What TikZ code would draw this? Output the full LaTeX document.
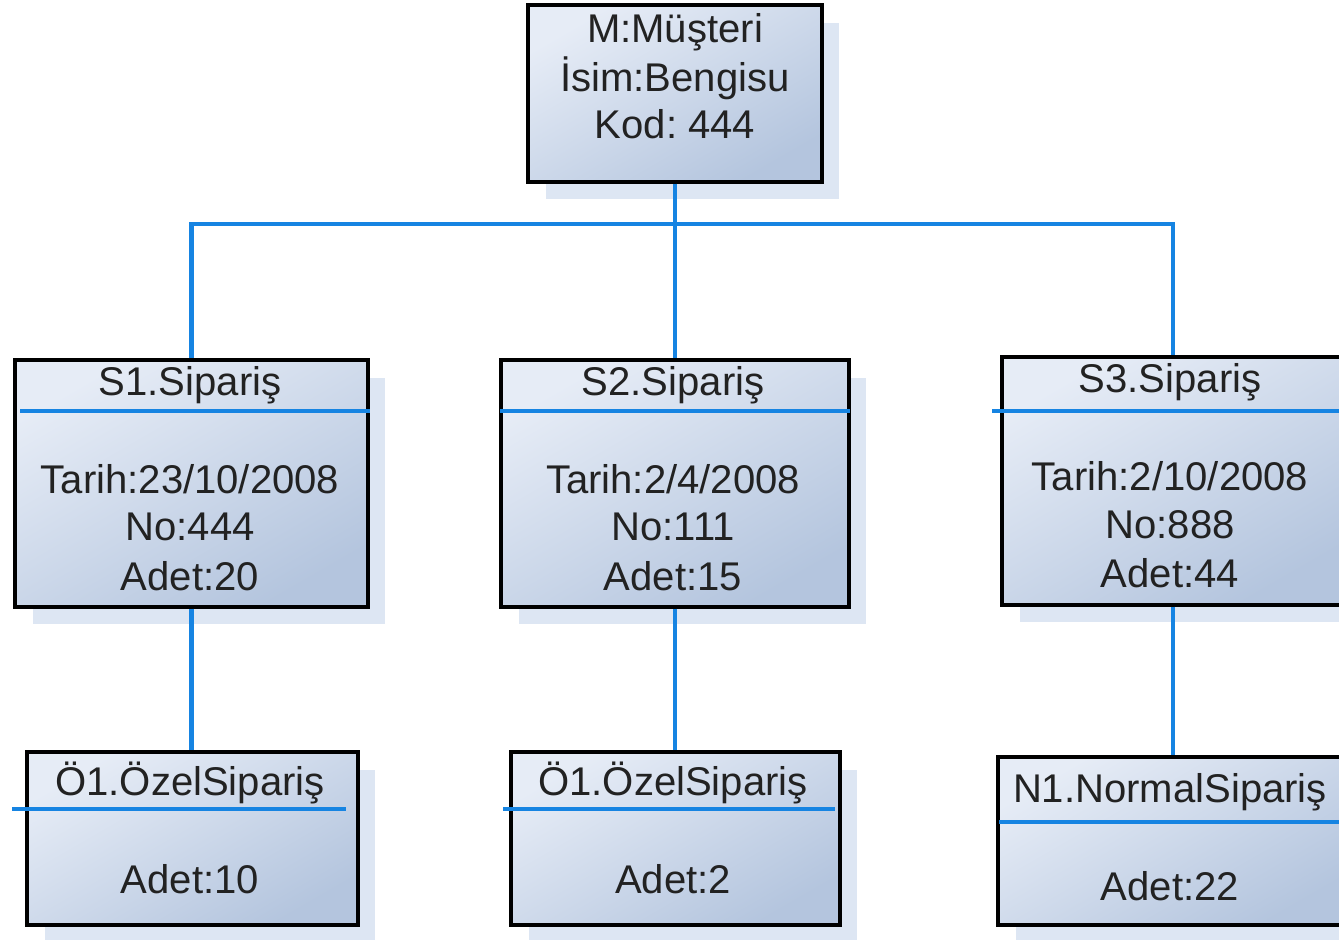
\documentclass[tikz,border=0pt]{standalone}
\usepackage{fontspec}
\newfontfamily\lsans{Liberation Sans}
\usetikzlibrary{shadows}
\definecolor{conncol}{RGB}{22,132,226}
\definecolor{boxlight}{RGB}{230,236,246}
\definecolor{boxdark}{RGB}{180,197,222}
\definecolor{shadowc}{RGB}{221,230,243}
\definecolor{txtc}{RGB}{34,34,34}
\frenchspacing
\tikzset{
 umlbox/.style={draw=black, line width=2pt, rectangle, inner sep=0pt,
   top color=boxlight, bottom color=boxdark, shading angle=30,
   drop shadow={shadow xshift=0.35cm, shadow yshift=-0.35cm, fill=shadowc, opacity=1}},
 conn/.style={draw=conncol, line width=2.3pt},
 divider/.style={draw=conncol, line width=2.3pt},
 txt/.style={font=\lsans\fontsize{22.8}{27}\selectfont, text=txtc, inner sep=0pt, anchor=base},
}
\begin{document}
\begin{tikzpicture}[x=0.02cm,y=-0.02cm]
\useasboundingbox (0,0) rectangle (1339,940);
\clip (0,0) rectangle (1339,940);
% boxes
\node[umlbox, minimum width=5.88cm, minimum height=3.54cm] (m) at (675,93.5) {};
\node[umlbox, minimum width=7.06cm, minimum height=4.94cm] (s1) at (191.5,483.5) {};
\node[umlbox, minimum width=6.96cm, minimum height=4.94cm] (s2) at (675,483.5) {};
\node[umlbox, minimum width=6.84cm, minimum height=4.96cm] (s3) at (1173,481) {};
\node[umlbox, minimum width=6.62cm, minimum height=3.46cm] (o1) at (192.5,838.5) {};
\node[umlbox, minimum width=6.58cm, minimum height=3.46cm] (o2) at (675.5,838.5) {};
\node[umlbox, minimum width=7.0cm, minimum height=3.36cm] (n1) at (1173,841) {};
% dividers
\draw[divider] (20,411) -- (370,411);
\draw[divider] (500,411) -- (850,411);
\draw[divider] (992,411) -- (1339,411);
\draw[divider] (12,809) -- (346,809);
\draw[divider] (503,809) -- (835,809);
\draw[divider] (999,822) -- (1339,822);
% connectors
\coordinate (bus) at (675,224);
\draw[conn] (m.south) -- (bus);
\draw[conn] (s1.north) |- (bus) -| (s3.north);
\draw[conn] (bus) -- (s2.north);
\draw[conn] (s1.south) -- (s1.south |- o1.north);
\draw[conn] (s2.south) -- (s2.south |- o2.north);
\draw[conn] (s3.south) -- (n1.north);
% texts
\node[txt] (mt1) at (675,42) {M:Müşteri};
\node[txt] (mt2) at (675,91) {İsim:Bengisu};
\node[txt] (mt3) at (675,138) {Kod: 444};
\node[txt] (s1t) at (190,395) {S1.Sipariş};
\node[txt] (s1a) at (190,493) {Tarih:23/10/2008};
\node[txt] (s1b) at (190,540) {No:444};
\node[txt] (s1c) at (190,590) {Adet:20};
\node[txt] (s2t) at (673,395) {S2.Sipariş};
\node[txt] (s2a) at (673,493) {Tarih:2/4/2008};
\node[txt] (s2b) at (673,540) {No:111};
\node[txt] (s2c) at (673,590) {Adet:15};
\node[txt] (s3t) at (1170,392) {S3.Sipariş};
\node[txt] (s3a) at (1170,490) {Tarih:2/10/2008};
\node[txt] (s3b) at (1170,538) {No:888};
\node[txt] (s3c) at (1170,587) {Adet:44};
\node[txt] (o1t) at (190,795) {Ö1.ÖzelSipariş};
\node[txt] (o1a) at (190,893) {Adet:10};
\node[txt] (o2t) at (673,795) {Ö1.ÖzelSipariş};
\node[txt] (o2a) at (673,893) {Adet:2};
\node[txt] (n1t) at (1170,802) {N1.NormalSipariş};
\node[txt] (n1a) at (1170,900) {Adet:22};
\end{tikzpicture}
\end{document}
